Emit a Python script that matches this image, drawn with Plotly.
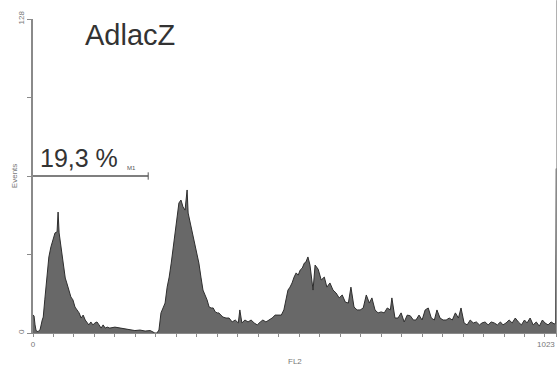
import plotly.graph_objects as go

# FL2 channel positions and event counts of the DNA histogram
channels = [
    0, 2, 4, 6, 10, 14, 18, 20, 23, 27, 31, 35, 39, 43, 47, 49, 51, 55, 59, 63,
    66, 70, 74, 78, 82, 86, 90, 94, 98, 102, 106, 109, 113, 117, 121, 125, 129,
    133, 137, 141, 145, 150, 160, 170, 180, 190, 199, 209, 219, 229, 238, 242,
    246, 250, 254, 258, 262, 266, 270, 274, 277, 281, 285, 289, 293, 297, 301,
    303, 305, 309, 313, 317, 320, 324, 328, 332, 336, 340, 344, 348, 352, 356,
    360, 363, 367, 371, 377, 383, 389, 395, 401, 404, 408, 414, 420, 426, 432,
    438, 444, 449, 455, 461, 467, 473, 479, 485, 490, 494, 498, 502, 506, 510,
    514, 518, 522, 526, 530, 533, 537, 541, 545, 547, 551, 557, 563, 569, 574,
    580, 586, 592, 598, 604, 610, 616, 621, 627, 633, 639, 645, 651, 657, 662,
    668, 674, 680, 686, 692, 698, 701, 707, 713, 719, 725, 731, 737, 743, 748,
    754, 760, 766, 772, 778, 784, 789, 795, 801, 807, 813, 819, 825, 831, 836,
    842, 848, 854, 860, 866, 872, 877, 883, 889, 895, 901, 907, 913, 918, 924,
    930, 936, 942, 948, 954, 960, 965, 971, 977, 983, 989, 995, 1000, 1006,
    1012, 1018, 1021, 1022, 1023,
]
events = [
    7.3, 7.0, 3.3, 1.0, 0.5, 1.5, 5.3, 6.5, 13.5, 22.8, 31.0, 35.1, 37.9, 40.8,
    41.2, 49.3, 40.8, 33.8, 26.9, 22.4, 20.4, 17.5, 14.7, 13.5, 10.6, 9.4, 8.2,
    6.1, 7.3, 5.3, 4.1, 3.3, 4.5, 3.3, 4.1, 4.5, 3.3, 2.0, 3.3, 2.0, 2.4, 2.0,
    2.4, 2.0, 1.6, 1.2, 1.0, 1.2, 0.8, 1.0, 0.0, 0.0, 1.2, 8.2, 10.2, 12.2,
    18.7, 22.8, 28.5, 35.1, 42.0, 47.3, 53.0, 54.2, 51.4, 50.1, 58.3, 48.9,
    46.9, 43.2, 39.1, 35.1, 32.6, 28.5, 22.8, 17.5, 15.5, 13.5, 10.6, 10.2,
    10.2, 8.6, 8.2, 8.2, 7.3, 6.5, 6.1, 6.1, 4.5, 5.3, 4.1, 9.4, 4.1, 5.3, 4.5,
    5.3, 4.1, 3.3, 4.5, 5.3, 4.5, 5.3, 6.1, 7.3, 7.3, 7.3, 9.4, 13.5, 17.5,
    18.7, 20.4, 22.8, 24.5, 23.6, 25.7, 26.5, 28.5, 28.9, 31.0, 27.7, 21.6,
    17.5, 27.7, 26.0, 21.6, 22.8, 18.7, 20.4, 17.5, 16.3, 14.3, 15.5, 12.6,
    12.2, 18.7, 10.6, 9.4, 9.4, 10.2, 15.5, 12.2, 14.3, 9.4, 8.2, 8.6, 8.2,
    10.2, 9.4, 14.3, 6.1, 6.1, 8.2, 4.5, 7.3, 7.0, 5.3, 5.3, 7.3, 5.3, 9.4,
    10.2, 6.1, 5.3, 9.4, 6.1, 5.3, 5.3, 6.1, 5.3, 8.2, 6.1, 10.2, 4.1, 3.3,
    5.3, 4.1, 4.5, 3.3, 4.1, 4.5, 3.3, 4.5, 4.1, 3.3, 4.5, 3.3, 4.1, 5.3, 4.1,
    6.1, 4.5, 3.3, 5.3, 4.1, 6.1, 3.3, 4.5, 2.8, 5.3, 4.1, 3.3, 4.5, 3.7, 4.0,
    67.0, 67.0,
]

# M1 gate marker
gate_start, gate_end, gate_level = 0, 225, 64
gate_label = "19,3 %"
gate_name = "M1"
sample_name = "AdlacZ"

y_ticks = [0, 128]
x_first, x_last = 0, 1023

FONT = "Liberation Sans, Arial, sans-serif"
AXIS_GREY = "#8a8a8a"
LABEL_GREY = "#777777"

fig = go.Figure()

fig.add_trace(go.Scatter(
    x=channels, y=events, mode="lines", line_shape="linear",
    line=dict(color="#2e2e2e", width=1),
    fill="tozeroy", fillcolor="#686868",
    hoverinfo="skip", showlegend=False,
))

# gate bar with end tick
fig.add_shape(type="line", x0=gate_start, x1=gate_end, y0=gate_level, y1=gate_level,
              line=dict(color="#555555", width=1.5))
fig.add_shape(type="line", x0=gate_end, x1=gate_end, y0=gate_level - 1.5, y1=gate_level + 1.5,
              line=dict(color="#555555", width=1))

# overflow line at the last channel
fig.add_shape(type="line", xref="x", yref="paper", x0=x_last, x1=x_last, y0=0, y1=1.06,
              line=dict(color="#9a9a9a", width=1))

fig.add_annotation(x=gate_start, y=gate_level, xref="x", yref="y", xanchor="left", yanchor="bottom",
                   xshift=5, yshift=2, text=gate_label, showarrow=False,
                   font=dict(family=FONT, size=25, color="#333333"))
fig.add_annotation(x=gate_start, y=gate_level, xref="x", yref="y", xanchor="left", yanchor="bottom",
                   xshift=92, yshift=3, text=gate_name, showarrow=False,
                   font=dict(family=FONT, size=6, color="#555555"))
fig.add_annotation(x=0.095, y=0.949, xref="paper", yref="paper", xanchor="left", yanchor="middle",
                   text=sample_name, showarrow=False,
                   font=dict(family=FONT, size=29, color="#333333"))
fig.add_annotation(x=-0.036, y=0.5, xref="paper", yref="paper", xanchor="center", yanchor="middle",
                   text="Events", textangle=-90, showarrow=False,
                   font=dict(family=FONT, size=8, color=LABEL_GREY))
fig.add_annotation(x=0.5, y=-0.07, xref="paper", yref="paper", xanchor="center", yanchor="top",
                   text="FL2", showarrow=False,
                   font=dict(family=FONT, size=8, color=LABEL_GREY))
# end-of-scale channel label, kept inside the page
fig.add_annotation(x=x_last, y=0, xref="x", yref="paper", xanchor="right", yanchor="top",
                   xshift=0, yshift=-5, text=str(x_last), showarrow=False,
                   font=dict(family=FONT, size=8, color=LABEL_GREY))

fig.update_layout(
    width=558, height=365,
    margin=dict(l=33, r=1, t=19, b=32),
    paper_bgcolor="white", plot_bgcolor="white",
    font=dict(family=FONT, size=8, color=LABEL_GREY),
    xaxis=dict(
        range=[x_first, x_last + 0.5], tickvals=[x_first, x_last], ticktext=[str(x_first), ""],
        ticks="outside", ticklen=3, tickcolor=AXIS_GREY,
        minor=dict(dtick=40, tick0=0, ticks="outside", ticklen=3, tickcolor=AXIS_GREY),
        showgrid=False, zeroline=False, showline=True, linecolor=AXIS_GREY, linewidth=1,
        tickfont=dict(size=8, color=LABEL_GREY),
    ),
    yaxis=dict(
        range=[0, 128], tickvals=y_ticks, ticktext=[str(v) for v in y_ticks],
        tickangle=-90, ticks="outside", ticklen=4, tickcolor=AXIS_GREY,
        minor=dict(dtick=32, tick0=0, ticks="outside", ticklen=4, tickcolor=AXIS_GREY),
        showgrid=False, zeroline=False, showline=True, linecolor=AXIS_GREY, linewidth=1.5,
        tickfont=dict(size=8, color=LABEL_GREY),
    ),
)

fig.write_html("out.html")
